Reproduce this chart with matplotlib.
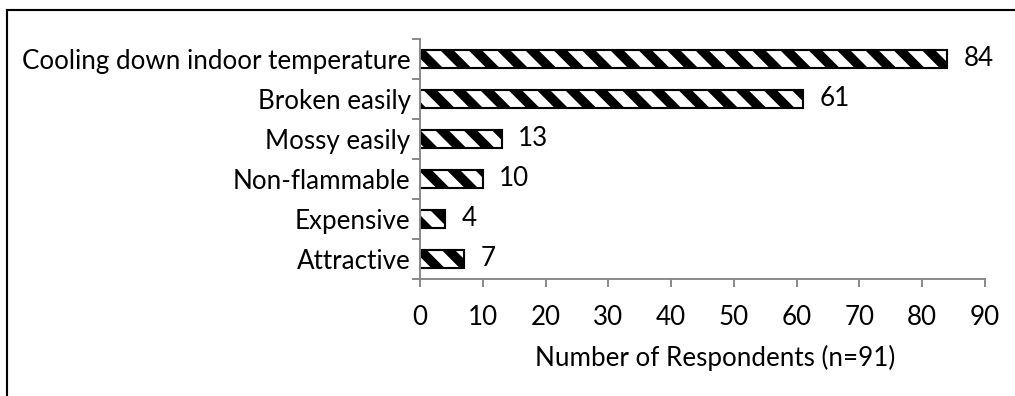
import matplotlib
matplotlib.use("Agg")
import matplotlib.pyplot as plt
from matplotlib.lines import Line2D
import numpy as np

# Reasons given by respondents, bottom to top
reasons = ["Attractive", "Expensive", "Non-flammable", "Mossy easily",
           "Broken easily", "Cooling down indoor temperature"]
counts = [7, 4, 10, 13, 61, 84]

DPI = 170
FS = 11
plt.rcParams['font.family'] = ['Lato', 'DejaVu Sans']
plt.rcParams['hatch.linewidth'] = 4.0
plt.rcParams['hatch.color'] = 'black'

fig = plt.figure(figsize=(1015 / DPI, 396 / DPI), dpi=DPI)
ax = fig.add_axes([420 / 1015, 1 - 279 / 396, 565 / 1015, 240 / 396])

y = np.arange(len(reasons))
bars = ax.barh(y, counts, height=0.43, color='white', edgecolor='black',
               linewidth=0.9, hatch='\\\\')

for yi, v in zip(y, counts):
    ax.annotate(str(v), (v, yi), xytext=(7, 0), textcoords='offset points',
                va='center', ha='left', fontsize=FS)

grey = '#868686'
ax.set_xlim(0, 90)
ax.set_ylim(-0.5, len(reasons) - 0.5)
ax.set_xticks(np.arange(0, 91, 10))
ax.set_yticks(y)
ax.set_yticklabels(reasons)
ax.set_yticks(np.arange(-0.5, len(reasons)), minor=True)
ax.tick_params(axis='y', which='major', length=0, pad=4, labelsize=FS)
ax.tick_params(axis='y', which='minor', length=3.4, width=0.8, color=grey)
ax.tick_params(axis='x', length=3.4, width=0.8, color=grey, pad=7.5,
               labelsize=FS)
for s in ['top', 'right']:
    ax.spines[s].set_visible(False)
for s in ['left', 'bottom']:
    ax.spines[s].set_color(grey)
    ax.spines[s].set_linewidth(0.8)
ax.set_xlabel("Number of Respondents (n=91)", fontsize=FS, labelpad=6.5,
              x=0.522)

# chart frame, only its left and top edges fall inside the image
fx, fy = 7 / 1015, 1 - 10 / 396
fig.add_artist(Line2D([fx, fx], [-0.1, fy], color='black', lw=0.9,
                      transform=fig.transFigure))
fig.add_artist(Line2D([fx, 1.1], [fy, fy], color='black', lw=0.9,
                      transform=fig.transFigure))

fig.savefig("out.png", dpi=DPI)
